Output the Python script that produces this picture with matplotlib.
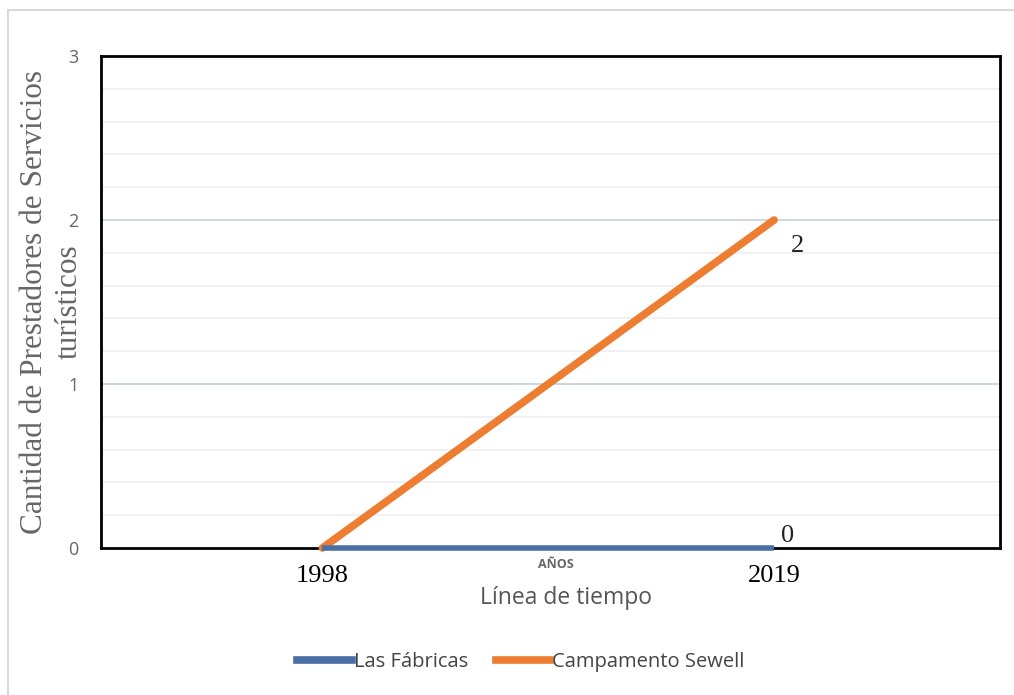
import matplotlib.pyplot as plt
from matplotlib.patches import Rectangle
from matplotlib.lines import Line2D

years = ["1998", "2019"]
las_fabricas = [0, 0]
campamento_sewell = [0, 2]
series_names = ["Las Fábricas", "Campamento Sewell"]
y_ticks = [0, 1, 2, 3]

BLUE = "#4a6fa5"
ORANGE = "#ed7d31"
SANS = ["Open Sans", "DejaVu Sans"]
SERIF = ["Liberation Serif", "DejaVu Serif"]

fig = plt.figure(figsize=(10.14, 6.95), dpi=100)
fig.patch.set_facecolor("white")

# light frame around the chart area
fig.add_artist(Rectangle((8 / 1014, -0.01), 1.02, 1 - 10 / 695 + 0.01,
                         transform=fig.transFigure, fill=False,
                         edgecolor="#d9d9d9", linewidth=1.5))

ax = fig.add_axes([101 / 1014, 1 - 548 / 695, 899 / 1014, 492 / 695])
x = list(range(len(years)))

ax.set_xlim(-0.49, 1.5)
ax.set_ylim(0, 3)

# gridlines: minor every 0.2, major on integers
for v in [i * 0.2 for i in range(1, 15)]:
    if abs(v - round(v)) < 1e-6:
        continue
    ax.axhline(v, color="#efefef", linewidth=1.2, zorder=0)
for v in [1, 2]:
    ax.axhline(v, color="#c5ced8", linewidth=1.2, zorder=0)

ax.plot(x, campamento_sewell, color=ORANGE, linewidth=5.5, solid_capstyle="round",
        zorder=3, clip_on=False)
ax.plot(x, las_fabricas, color=BLUE, linewidth=4, solid_capstyle="butt",
        zorder=4, clip_on=False)

# value labels at the last point
ax.annotate(str(campamento_sewell[-1]), (x[-1], campamento_sewell[-1]),
            xytext=(17, -19), textcoords="offset points", fontsize=19,
            family=SERIF, color="#222222", ha="center", va="center")
ax.annotate(str(las_fabricas[-1]), (x[-1], las_fabricas[-1]),
            xytext=(9.5, 8.5), textcoords="offset points", fontsize=19,
            family=SERIF, color="#222222", ha="center", va="center")

for s in ax.spines.values():
    s.set_linewidth(2)
    s.set_color("black")

ax.set_yticks(y_ticks)
ax.set_yticklabels([str(t) for t in y_ticks], family=SANS, fontsize=13,
                   color="#666666")
ax.tick_params(axis="y", length=0, pad=16)
ax.set_xticks(x)
ax.set_xticklabels(years, family=SERIF, fontsize=19, color="black")
ax.tick_params(axis="x", length=0, pad=12)

ax.set_ylabel("Cantidad de Prestadores de Servicios\nturísticos", family=SERIF,
              fontsize=22.5, color="#666666", linespacing=1.25)
ax.yaxis.set_label_coords(-0.019, 0.5)

fig.text(556 / 1014, 1 - 565 / 695, "AÑOS", family=SANS, fontsize=9,
         color="#666666", ha="center", va="center", weight="bold")
fig.text(566 / 1014, 1 - 598 / 695, "Línea de tiempo", family=SANS,
         fontsize=16.5, color="#555555", ha="center", va="center")

handles = [Line2D([], [], color=BLUE, linewidth=5.5),
           Line2D([], [], color=ORANGE, linewidth=5.5)]
fig.legend(handles, series_names, loc="center", bbox_to_anchor=(521 / 1014, 1 - 662 / 695),
           ncol=2, frameon=False, prop={"family": SANS, "size": 14.5},
           labelcolor="#444444", handlelength=2.7, handletextpad=0.1,
           columnspacing=1.4)

fig.savefig("out.png", dpi=100)
